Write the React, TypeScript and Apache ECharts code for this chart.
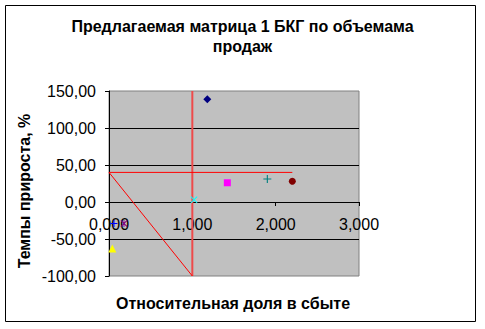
import React, { useEffect, useRef } from "react";
import * as echarts from "echarts";

const FONT = 'Arial, "Liberation Sans", sans-serif';

const titleLines = ["Предлагаемая матрица 1 БКГ по объемама", "продаж"];
const xAxisName = "Относительная доля в сбыте";
const yAxisName = "Темпы прироста, %";

const xMin = 0;
const xMax = 3;
const xInterval = 1;
const yMin = -100;
const yMax = 150;
const yInterval = 50;

// scatter points [relative share, growth %]
const series1 = [[1.18, 139]];
const series2 = [[1.42, 26]];
const series3 = [[0.04, -63]];
const series4 = [[1.02, 3]];
const series5 = [[0.18, -29]];
const series6 = [[2.2, 28]];
const series7 = [[1.9, 31]];
const series8 = [[0.06, -29]];

// red matrix lines
const horizontalLine = [[0, 40], [2.2, 40]];
const diagonalLine = [[0, 40], [1, -100]];
const verticalLine = [[1, 150], [1, -100]];

const X_PATH = "path://M0,1 L1,0 L5,4 L9,0 L10,1 L6,5 L10,9 L9,10 L5,6 L1,10 L0,9 L4,5Z";
const STAR_PATH =
  "path://M0,1 L1,0 L5,4 L9,0 L10,1 L6,5 L10,9 L9,10 L5,6 L1,10 L0,9 L4,5Z M4.4,0 L5.6,0 L5.6,10 L4.4,10Z";
const PLUS_PATH =
  "path://M4.3,0 L5.7,0 L5.7,4.3 L10,4.3 L10,5.7 L5.7,5.7 L5.7,10 L4.3,10 L4.3,5.7 L0,5.7 L0,4.3 L4.3,4.3Z";

const scatterDefs = [
  { name: "Ряд1", data: series1, symbol: "diamond", size: 8, color: "#000080" },
  { name: "Ряд2", data: series2, symbol: "rect", size: 7, color: "#FF00FF" },
  { name: "Ряд3", data: series3, symbol: "triangle", size: 8, color: "#FFFF00" },
  { name: "Ряд4", data: series4, symbol: X_PATH, size: 7, color: "#00FFFF" },
  { name: "Ряд5", data: series5, symbol: STAR_PATH, size: 7, color: "#800080" },
  { name: "Ряд6", data: series6, symbol: "circle", size: 7, color: "#800000" },
  { name: "Ряд7", data: series7, symbol: PLUS_PATH, size: 8, color: "#008080" },
  { name: "Ряд8", data: series8, symbol: PLUS_PATH, size: 7, color: "#0000FF" },
];

const fmtX = (v: number) => v.toFixed(3).replace(".", ",");
const fmtY = (v: number) => v.toFixed(2).replace(".", ",");

const GRID_TOP = 91;
const GRID_H = 185;

export default function App() {
  const ref = useRef<HTMLDivElement>(null);
  useEffect(() => {
    if (!ref.current) return;
    const chart = echarts.init(ref.current, null, { renderer: "svg" });
    // pixel distance of y = 0 above the grid bottom, so the x axis sits on zero
    const zeroOffset = (GRID_H * (0 - yMin)) / (yMax - yMin);
    const option: any = {
      animation: false,
      backgroundColor: "#ffffff",
      title: {
        text: titleLines.join("\n"),
        left: "center",
        top: 11,
        textStyle: {
          fontFamily: FONT,
          fontSize: 16,
          fontWeight: "bold",
          color: "#000",
          lineHeight: 20,
        },
      },
      grid: {
        left: 109,
        top: GRID_TOP,
        width: 250,
        height: GRID_H,
        show: true,
        backgroundColor: "#c0c0c0",
        borderColor: "#808080",
        borderWidth: 1,
        containLabel: false,
        outerBoundsMode: "none",
      },
      xAxis: {
        type: "value",
        min: xMin,
        max: xMax,
        interval: xInterval,
        position: "bottom",
        offset: -zeroOffset,
        axisLine: { show: true, onZero: false, lineStyle: { color: "#000", width: 1 } },
        axisTick: { show: true, inside: false, length: 4, lineStyle: { color: "#000" } },
        axisLabel: {
          formatter: fmtX,
          fontFamily: FONT,
          fontSize: 16,
          color: "#000",
          margin: 14,
          showMinLabel: true,
          showMaxLabel: true,
        },
        splitLine: { show: false },
        z: 1,
      },
      yAxis: {
        type: "value",
        min: yMin,
        max: yMax,
        interval: yInterval,
        axisLine: { show: true, onZero: false, lineStyle: { color: "#000", width: 1 } },
        axisTick: { show: true, inside: false, length: 4, lineStyle: { color: "#000" } },
        axisLabel: {
          formatter: fmtY,
          fontFamily: FONT,
          fontSize: 16,
          color: "#000",
          margin: 13,
        },
        splitLine: {
          show: true,
          showMinLine: false,
          showMaxLine: false,
          lineStyle: { color: "#000", width: 1 },
        },
      },
      graphic: [
        {
          type: "rect",
          shape: { x: 5.5, y: 5.5, width: 470, height: 316 },
          style: { fill: "none", stroke: "#000", lineWidth: 1 },
          silent: true,
        },
        {
          type: "text",
          x: 233,
          y: 303,
          style: {
            text: xAxisName,
            fontFamily: FONT,
            fontSize: 16,
            fontWeight: "bold",
            fill: "#000",
            align: "center",
            verticalAlign: "middle",
          },
        },
        {
          type: "text",
          x: 24,
          y: 191,
          rotation: Math.PI / 2,
          style: {
            text: yAxisName,
            fontFamily: FONT,
            fontSize: 16,
            fontWeight: "bold",
            fill: "#000",
            align: "center",
            verticalAlign: "middle",
          },
        },
      ],
      series: [
        {
          type: "line",
          data: verticalLine,
          symbol: "none",
          silent: true,
          lineStyle: { color: "#ee4a4a", width: 2 },
          z: 3,
        },
        {
          type: "line",
          data: horizontalLine,
          symbol: "none",
          silent: true,
          lineStyle: { color: "#ff0000", width: 1 },
          z: 3,
        },
        {
          type: "line",
          data: diagonalLine,
          symbol: "none",
          silent: true,
          lineStyle: { color: "#ff0000", width: 1 },
          z: 3,
        },
        ...scatterDefs.map((d) => ({
          type: "scatter",
          name: d.name,
          data: d.data,
          symbol: d.symbol,
          symbolSize: d.size,
          itemStyle: { color: d.color, opacity: 1 },
          z: 4,
        })),
      ],
    };
    chart.setOption(option);
    return () => chart.dispose();
  }, []);
  return (
    <div
      ref={ref}
      style={{ position: "absolute", left: 0, top: 0, width: 485, height: 329 }}
    />
  );
}
